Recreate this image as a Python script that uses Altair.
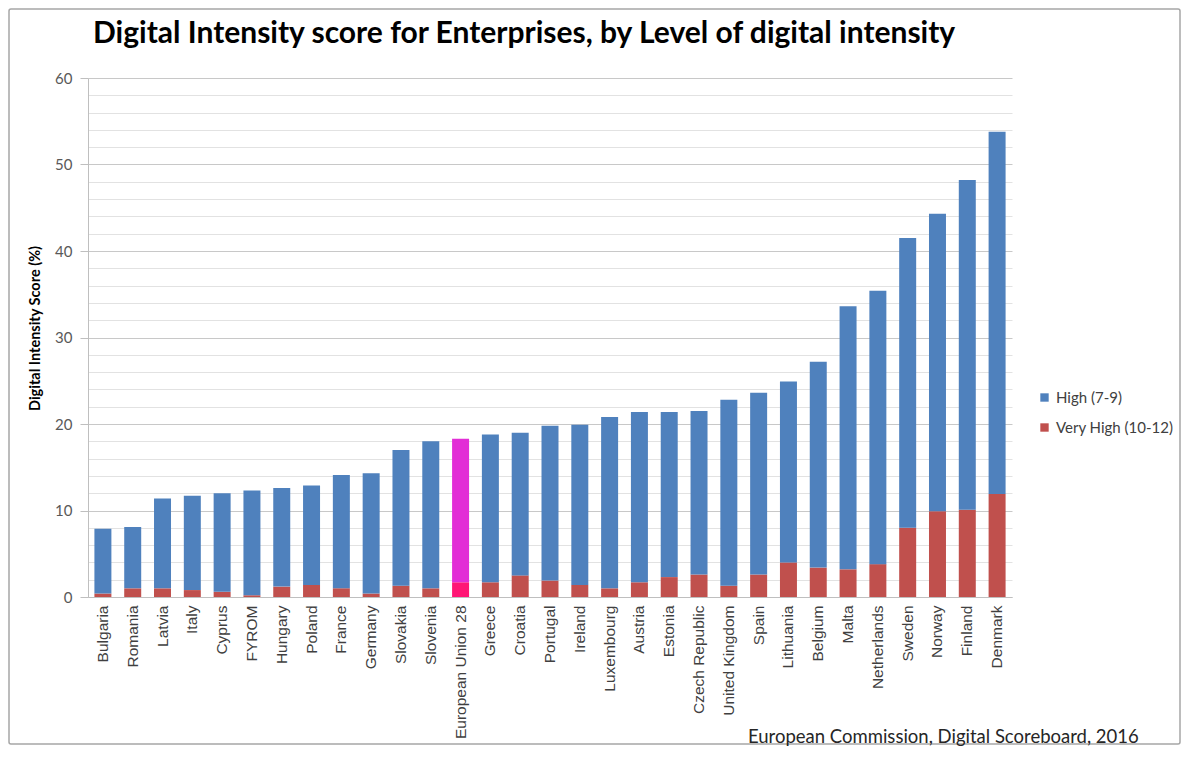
import altair as alt
import pandas as pd

countries = ["Bulgaria", "Romania", "Latvia", "Italy", "Cyprus", "FYROM", "Hungary",
             "Poland", "France", "Germany", "Slovakia", "Slovenia", "European Union 28",
             "Greece", "Croatia", "Portugal", "Ireland", "Luxembourg", "Austria", "Estonia",
             "Czech Republic", "United Kingdom", "Spain", "Lithuania", "Belgium", "Malta",
             "Netherlands", "Sweden", "Norway", "Finland", "Denmark"]
very_high = [0.4, 1.0, 1.0, 0.8, 0.6, 0.2, 1.2, 1.4, 1.0, 0.4, 1.3, 1.0, 1.7,
             1.7, 2.5, 1.9, 1.4, 1.0, 1.7, 2.3, 2.6, 1.3, 2.6, 4.0, 3.4, 3.2,
             3.8, 8.0, 9.9, 10.1, 11.9]
high = [7.5, 7.1, 10.4, 10.9, 11.4, 12.1, 11.4, 11.5, 13.1, 13.9, 15.7, 17.0, 16.6,
        17.1, 16.5, 17.9, 18.5, 19.8, 19.7, 19.1, 18.9, 21.5, 21.0, 20.9, 23.8, 30.4,
        31.6, 33.5, 34.4, 38.1, 41.9]
series_names = ["High (7-9)", "Very High (10-12)"]
eu_names = ["EU High", "EU Very High"]
title = "Digital Intensity score for Enterprises, by Level of digital intensity"
source = "European Commission, Digital Scoreboard, 2016"

rows = []
for i, c in enumerate(countries):
    eu = c == "European Union 28"
    rows.append({"country": c, "series": eu_names[1] if eu else series_names[1],
                 "value": very_high[i], "ord": 0})
    rows.append({"country": c, "series": eu_names[0] if eu else series_names[0],
                 "value": high[i], "ord": 1})
df = pd.DataFrame(rows)

major = "datum.value % 10 === 0"

bars = alt.Chart(df).mark_bar().encode(
    x=alt.X("country:N", sort=countries, title=None,
            scale=alt.Scale(paddingInner=0.43, paddingOuter=0.215),
            axis=alt.Axis(labelAngle=270, labelFont="Liberation Sans", labelFontSize=15.5,
                          labelColor="#404040", ticks=False, labelPadding=8,
                          domainColor="#BFBFBF", grid=False)),
    y=alt.Y("value:Q", stack="zero", scale=alt.Scale(domain=[0, 60], nice=False),
            title="Digital Intensity Score (%)",
            axis=alt.Axis(values=list(range(0, 61, 2)),
                          labelExpr="datum.value % 10 === 0 ? datum.label : ''",
                          labelFont="Lato", labelFontSize=15, labelColor="#595959",
                          labelPadding=8, tickSize=8, tickColor="#BFBFBF",
                          tickOpacity={"condition": {"test": major, "value": 1}, "value": 0},
                          gridColor={"condition": {"test": major, "value": "#C8C8C8"}, "value": "#E2E2E2"},
                          domainColor="#BFBFBF",
                          titleFont="Lato", titleFontSize=14.5, titleFontWeight="bold",
                          titleColor="#000000", titlePadding=12, titleY=250)),
    color=alt.Color("series:N",
                    scale=alt.Scale(domain=series_names + eu_names,
                                    range=["#4F81BD", "#C0504D", "#E22DD6", "#FF1675"]),
                    legend=alt.Legend(values=series_names, title=None, orient="none",
                                      legendX=949, legendY=312, symbolType="square",
                                      symbolSize=70, labelFont="Lato", labelFontSize=15,
                                      labelColor="#404040", rowPadding=14, labelOffset=4)),
    order=alt.Order("ord:Q"),
)

src = alt.Chart(pd.DataFrame({"t": [source]})).mark_text(
    align="left", baseline="middle", font="Lato", fontSize=18.5, color="#262626"
).encode(x=alt.value(660), y=alt.value(659), text="t:N")

ttl = alt.Chart(pd.DataFrame({"t": [title]})).mark_text(
    align="left", baseline="alphabetic", font="Lato", fontSize=30, fontWeight="bold",
    color="#000000"
).encode(x=alt.value(5), y=alt.value(-35), text="t:N")

frame = alt.Chart(pd.DataFrame({"t": [0]})).mark_rect(
    fillOpacity=0, stroke="#A6A6A6", strokeWidth=1.5, cornerRadius=2
).encode(x=alt.value(-79), x2=alt.value(1092), y=alt.value(-69), y2=alt.value(666))

chart = alt.layer(frame, bars, src, ttl).properties(
    width=924, height=519,
    autosize=alt.AutoSizeParams(type="none"),
    padding={"left": 80, "top": 70, "right": 169, "bottom": 150},
).configure_view(strokeWidth=0)

chart.save("out.html", embed_options={"renderer": "svg", "actions": False})
